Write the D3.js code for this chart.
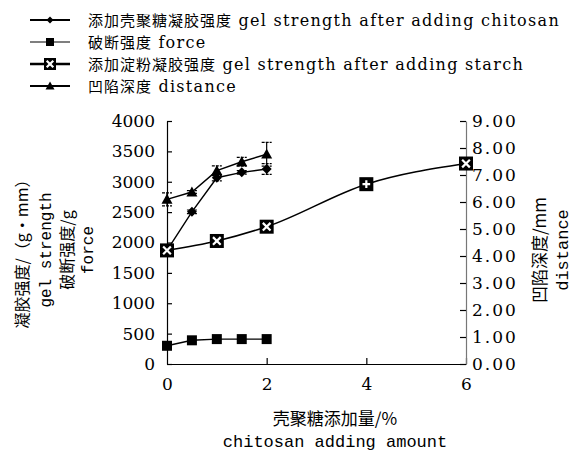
<!DOCTYPE html>
<html><head><meta charset="utf-8">
<script src="https://cdn.jsdelivr.net/npm/d3@7"></script>
<style>
body{margin:0;background:#fff;}
svg{display:block;}
</style></head>
<body><svg id="c" width="574" height="455"></svg>
<script>
// ---- data ----
const chitosanX = [0, 0.5, 1, 1.5, 2];
const gelChitosan = [1870, 2505, 3066, 3155, 3210];
const gelChitosanErr = [0, 30, 50, 30, 90];
const force = [300, 390, 410, 410, 410];
const starchX = [0, 1, 2, 4, 6];
const gelStarch = [1870, 2025, 2260, 2960, 3300];
const distance = [6.10, 6.37, 7.16, 7.49, 7.77];
const distanceErr = [0.24, 0.05, 0.18, 0.16, 0.44];
const xTicks = [0, 2, 4, 6];
const leftTicks = [0, 500, 1000, 1500, 2000, 2500, 3000, 3500, 4000];
const rightTicks = [0, 1, 2, 3, 4, 5, 6, 7, 8, 9];
const legendLabels = [
  ["添加壳聚糖凝胶强度", " gel strength after adding chitosan"],
  ["破断强度", " force"],
  ["添加淀粉凝胶强度", " gel strength after adding starch"],
  ["凹陷深度", " distance"]
];
const xTitle = ["壳聚糖添加量/%", "chitosan adding amount"];
const leftTitle = ["凝胶强度/（g·mm）", "gel strength", "破断强度/g", "force"];
const rightTitle = ["凹陷深度/mm", "distance"];

// ---- layout ----
const L = 167, R = 466, T = 121, B = 364;
const svg = d3.select("#c");
const x = d3.scaleLinear().domain([0, 6]).range([L, R]);
const yL = d3.scaleLinear().domain([0, 4000]).range([B, T]);
const yR = d3.scaleLinear().domain([0, 9]).range([B, T]);
const CJK = "'Noto Sans CJK SC', sans-serif";
const SERIF = "'DejaVu Serif', serif";
const MONO = "'Liberation Mono', monospace";

// axes
const gx = svg.append("g").attr("transform", `translate(0,${B})`)
  .call(d3.axisBottom(x).tickValues(xTicks).tickFormat(d3.format("d")).tickSizeInner(-6).tickSizeOuter(0).tickPadding(14));
const gl = svg.append("g").attr("transform", `translate(${L},0)`)
  .call(d3.axisLeft(yL).tickValues(leftTicks).tickFormat(d3.format("d")).tickSizeInner(-5).tickSizeOuter(0).tickPadding(12));
const gr = svg.append("g").attr("transform", `translate(${R},0)`)
  .call(d3.axisRight(yR).tickValues(rightTicks).tickSizeInner(-6).tickSizeOuter(0).tickPadding(6)
    .tickFormat(d3.format(".2f")));
[gx, gl, gr].forEach(g => {
  g.selectAll("path.domain").attr("stroke", "#000").attr("stroke-width", 1.2);
  g.selectAll(".tick line").attr("stroke", "#000").attr("stroke-width", 1.2);
  g.selectAll("text").attr("fill", "#000").style("font-family", SERIF).style("font-size", "17px");
});
gr.select("path.domain").attr("stroke", "#777");
gr.selectAll("text").style("letter-spacing", "2px");
gx.select(".tick:first-of-type line").remove();

// line generators
const lineL = (xs, ys, curve) => d3.line().x((d, i) => x(xs[i])).y(d => yL(d)).curve(curve || d3.curveLinear)(ys);
const lineR = (xs, ys) => d3.line().x((d, i) => x(xs[i])).y(d => yR(d))(ys);

const plot = svg.append("g");
// error bars
function errBars(xs, ys, es, scale) {
  xs.forEach((xv, i) => {
    if (!es[i]) return;
    const cx = x(xv), y1 = scale(ys[i] + es[i]), y2 = scale(ys[i] - es[i]);
    plot.append("line").attr("x1", cx).attr("x2", cx).attr("y1", y1).attr("y2", y2).attr("stroke", "#000").attr("stroke-width", 1.2);
    [y1, y2].forEach(yy => plot.append("line").attr("x1", cx - 5).attr("x2", cx + 5).attr("y1", yy).attr("y2", yy)
      .attr("stroke", "#000").attr("stroke-width", 1.2).attr("stroke-dasharray", "3,1"));
  });
}
errBars(chitosanX, distance, distanceErr, yR);
errBars(chitosanX, gelChitosan, gelChitosanErr, yL);

plot.append("path").attr("d", lineL(starchX, gelStarch, d3.curveMonotoneX)).attr("fill", "none").attr("stroke", "#000").attr("stroke-width", 1.6);
plot.append("path").attr("d", lineL(chitosanX, gelChitosan)).attr("fill", "none").attr("stroke", "#000").attr("stroke-width", 1.4);
plot.append("path").attr("d", lineL(chitosanX, force)).attr("fill", "none").attr("stroke", "#000").attr("stroke-width", 1.4);
plot.append("path").attr("d", lineR(chitosanX, distance)).attr("fill", "none").attr("stroke", "#000").attr("stroke-width", 1.4);

// markers
function diamond(g, cx, cy, s) {
  g.append("path").attr("d", `M${cx},${cy - s}L${cx + s},${cy}L${cx},${cy + s}L${cx - s},${cy}Z`).attr("fill", "#000");
}
function square(g, cx, cy, s) {
  g.append("rect").attr("x", cx - s).attr("y", cy - s).attr("width", 2 * s).attr("height", 2 * s).attr("fill", "#000");
}
function tri(g, cx, cy, s) {
  g.append("path").attr("d", `M${cx},${cy - s}L${cx + s},${cy + s * 0.8}L${cx - s},${cy + s * 0.8}Z`).attr("fill", "#000");
}
function boxX(g, cx, cy, s, plus) {
  g.append("rect").attr("x", cx - s).attr("y", cy - s).attr("width", 2 * s).attr("height", 2 * s).attr("fill", "#000");
  const k = s * 0.55;
  const d = plus ? `M${cx - k},${cy}L${cx + k},${cy}M${cx},${cy - k}L${cx},${cy + k}`
                 : `M${cx - k},${cy - k}L${cx + k},${cy + k}M${cx + k},${cy - k}L${cx - k},${cy + k}`;
  g.append("path").attr("d", d).attr("stroke", "#fff").attr("stroke-width", 2.2).attr("fill", "none");
}
chitosanX.forEach((xv, i) => square(plot, x(xv), yL(force[i]), 5));
chitosanX.forEach((xv, i) => tri(plot, x(xv), yR(distance[i]), 5.5));
chitosanX.forEach((xv, i) => { if (i > 0) diamond(plot, x(xv), yL(gelChitosan[i]), 5); });
starchX.forEach((xv, i) => boxX(plot, x(xv), yL(gelStarch[i]), 7, xv === 4));

// legend
const legY = [20, 42, 64, 86];
const leg = svg.append("g");
legY.forEach((ly, i) => {
  leg.append("line").attr("x1", 30).attr("x2", 70).attr("y1", ly).attr("y2", ly).attr("stroke", "#000")
    .attr("stroke-width", i === 1 ? 1.2 : (i === 2 ? 2.4 : 1.8));
  if (i === 0) diamond(leg, 50, ly, 3.5);
  if (i === 1) square(leg, 50, ly, 4);
  if (i === 2) boxX(leg, 50, ly, 6, false);
  if (i === 3) tri(leg, 50, ly, 4.5);
  const t = leg.append("text").attr("x", 88).attr("y", ly + 6).attr("fill", "#000");
  t.append("tspan").text(legendLabels[i][0]).style("font-family", CJK).style("font-size", "15px").style("letter-spacing", "1px");
  t.append("tspan").text(legendLabels[i][1]).style("font-family", SERIF).style("font-size", "16px").style("letter-spacing", "1.3px");
});

// x title
svg.append("text").attr("x", 335).attr("y", 425).attr("text-anchor", "middle").text(xTitle[0])
  .style("font-family", CJK).style("font-size", "17px");
svg.append("text").attr("x", 335).attr("y", 447).attr("text-anchor", "middle").text(xTitle[1])
  .style("font-family", MONO).style("font-size", "17px");

// left title
const ltX = [22, 45, 67, 87];
leftTitle.forEach((s, i) => {
  svg.append("text").attr("transform", `translate(${ltX[i] + 6},250) rotate(-90)`).attr("text-anchor", "middle")
    .text(s).style("font-family", i % 2 ? MONO : CJK).style("font-size", "16px");
});
// right title
const rtX = [540, 562];
rightTitle.forEach((s, i) => {
  svg.append("text").attr("transform", `translate(${rtX[i] + 6},250) rotate(-90)`).attr("text-anchor", "middle")
    .text(s).style("font-family", i ? MONO : CJK).style("font-size", "17px");
});
</script></body></html>
